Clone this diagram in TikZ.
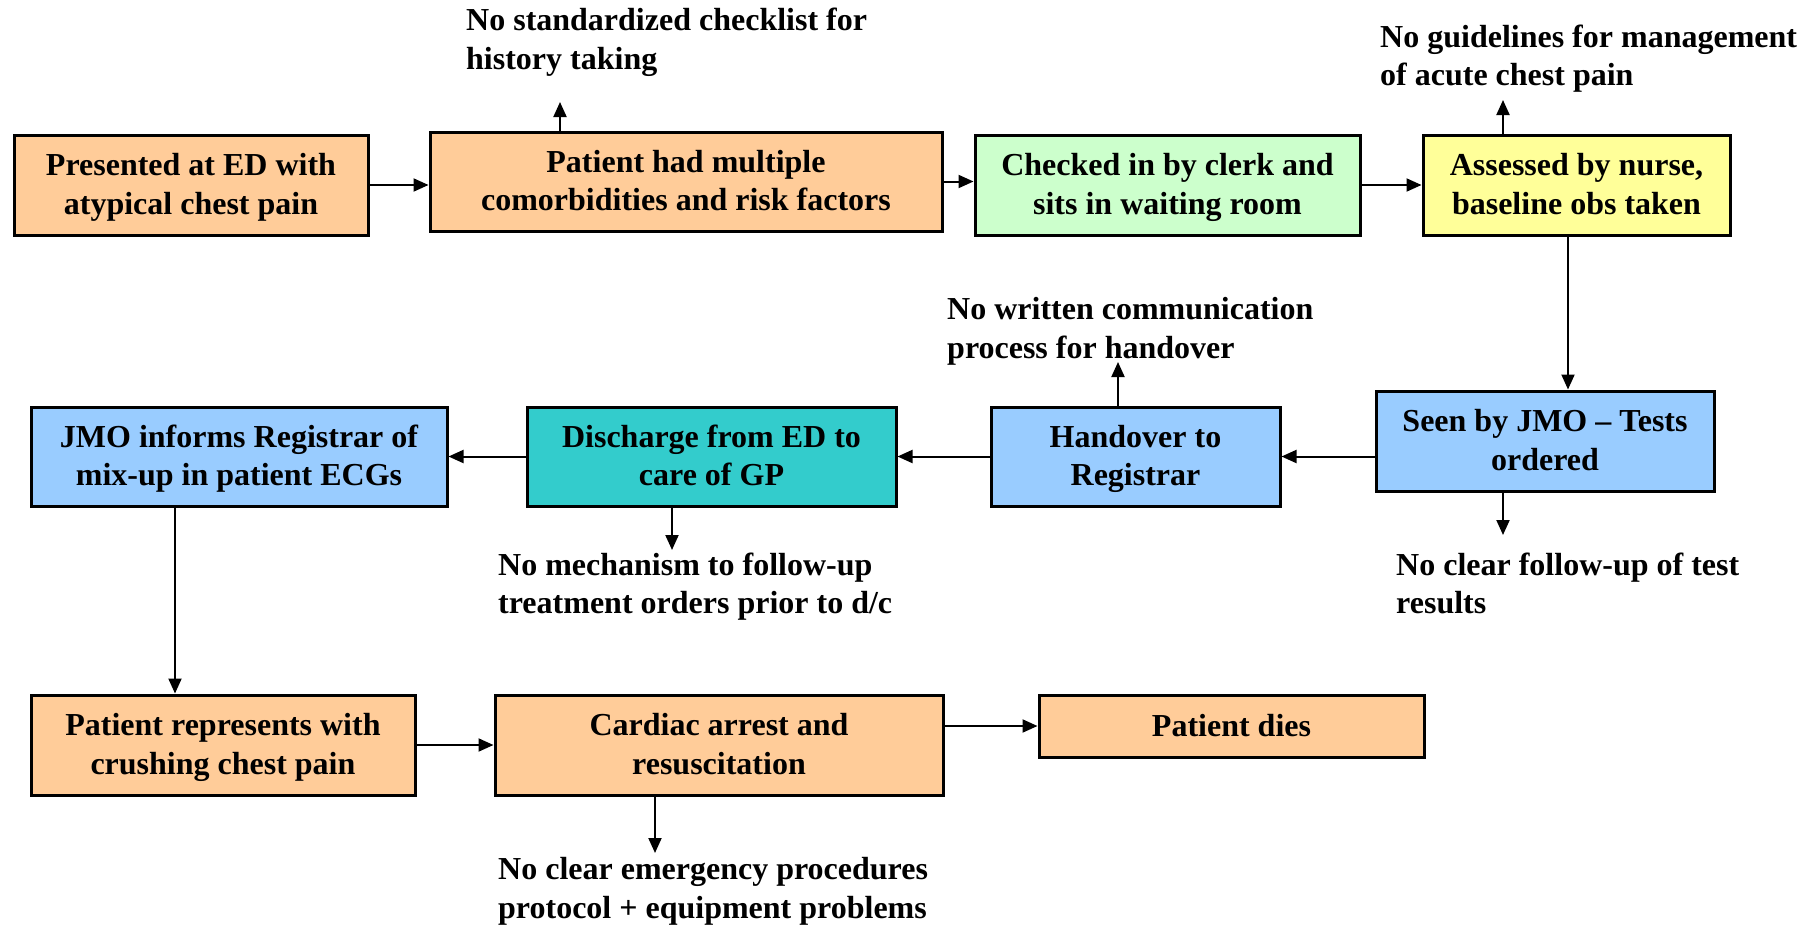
\documentclass[tikz,border=0pt]{standalone}
\usepackage{fontspec}
\setmainfont{Liberation Serif}[BoldFont={Liberation Serif Bold}]
\usetikzlibrary{arrows.meta}
\definecolor{peach}{HTML}{FFCC99}
\definecolor{mint}{HTML}{CCFFCC}
\definecolor{lemon}{HTML}{FFFF99}
\definecolor{sky}{HTML}{99CCFF}
\definecolor{teal}{HTML}{33CCCC}
% fixed line height and depth, so every text block is centred the same way
\newcommand\ls{\rule[-8pt]{0pt}{36pt}}
\tikzset{
  box/.style={draw=black, line width=3pt, align=center, inner sep=0pt,
    font=\fontsize{32}{38.5}\selectfont\bfseries},
  note/.style={anchor=west, align=left, inner sep=0pt,
    font=\fontsize{32}{38.5}\selectfont\bfseries},
  arr/.style={line width=2pt, -{Triangle[length=15pt,width=13pt]}},
}
\begin{document}
\begin{tikzpicture}[x=1pt,y=-1pt]
\useasboundingbox (0,0) rectangle (1813,926);
% first row
\node[box, fill=peach, minimum width=354pt, minimum height=100pt] (B1) at (191,185) {\ls Presented at ED with\\atypical chest pain\ls};
\node[box, fill=peach, minimum width=512pt, minimum height=99pt] (B2) at (686,181.5) {\ls Patient had multiple\\comorbidities and risk factors\ls};
\node[box, fill=mint, minimum width=385pt, minimum height=100pt] (B3) at (1167.5,185) {\ls Checked in by clerk and\\sits in waiting room\ls};
\node[box, fill=lemon, minimum width=307pt, minimum height=100pt] (B4) at (1576.5,185) {\ls Assessed by nurse,\\baseline obs taken\ls};
% second row
\node[box, fill=sky, minimum width=416pt, minimum height=99pt] (B5) at (239,456.5) {\ls JMO informs Registrar of\\mix-up in patient ECGs\ls};
\node[box, fill=teal, minimum width=369pt, minimum height=99pt] (B6) at (711.5,456.5) {\ls Discharge from ED to\\care of GP\ls};
\node[box, fill=sky, minimum width=289pt, minimum height=99pt] (B7) at (1135.5,456.5) {\ls Handover to\\Registrar\ls};
\node[box, fill=sky, minimum width=338pt, minimum height=100pt] (B8) at (1545,441) {\ls Seen by JMO -- Tests\\ordered\ls};
% third row
\node[box, fill=peach, minimum width=384pt, minimum height=100pt] (B9) at (223,745) {\ls Patient represents with\\crushing chest pain\ls};
\node[box, fill=peach, minimum width=448pt, minimum height=100pt] (B10) at (719,745) {\ls Cardiac arrest and\\resuscitation\ls};
\node[box, fill=peach, minimum width=385pt, minimum height=62pt] (B11) at (1231.5,726) {\ls Patient dies};
% contributing factors
\node[note] (N1) at (466,40) {\ls No standardized checklist for\\history taking\ls};
\node[note] (N2) at (1380,56.5) {\ls No guidelines for management\\of acute chest pain\ls};
\node[note] (N3) at (947,329) {\ls No written communication\\process for handover\ls};
\node[note] (N4) at (1396,584.5) {\ls No clear follow-up of test\\results\ls};
\node[note] (N5) at (498,584.5) {\ls No mechanism to follow-up\\treatment orders prior to d/c\ls};
\node[note] (N6) at (498,889) {\ls No clear emergency procedures\\protocol + equipment problems\ls};
% arrow tips pointing at the factors
\coordinate (t1) at (560,102);
\coordinate (t2) at (1503,100);
\coordinate (t3) at (1118,362);
\coordinate (t4) at (1503,535);
\coordinate (t5) at (672,550);
\coordinate (t6) at (655,853);
% flow
\draw[arr] (B1.east) -- (B2.west |- B1.east);
\draw[arr] (B2.east) -- (B3.west |- B2.east);
\draw[arr] (B3.east) -- (B4.west);
\draw[arr] ([xshift=-8.5pt]B4.south) -- ([xshift=-8.5pt]B4.south |- B8.north);
\draw[arr] (B8.west |- B7.east) -- (B7.east);
\draw[arr] (B7.west) -- (B6.east);
\draw[arr] (B6.west) -- (B5.east);
\draw[arr] ([xshift=-64pt]B5.south) -- ([xshift=-64pt]B5.south |- B9.north);
\draw[arr] (B9.east) -- (B10.west);
\draw[arr] (B10.east |- B11.west) -- (B11.west);
% factor arrows
\draw[arr] (t1 |- B2.north) -- (t1);
\draw[arr] (t2 |- B4.north) -- (t2);
\draw[arr] (t3 |- B7.north) -- (t3);
\draw[arr] (t4 |- B8.south) -- (t4);
\draw[arr] (t5 |- B6.south) -- (t5);
\draw[arr] (t6 |- B10.south) -- (t6);
\end{tikzpicture}
\end{document}
